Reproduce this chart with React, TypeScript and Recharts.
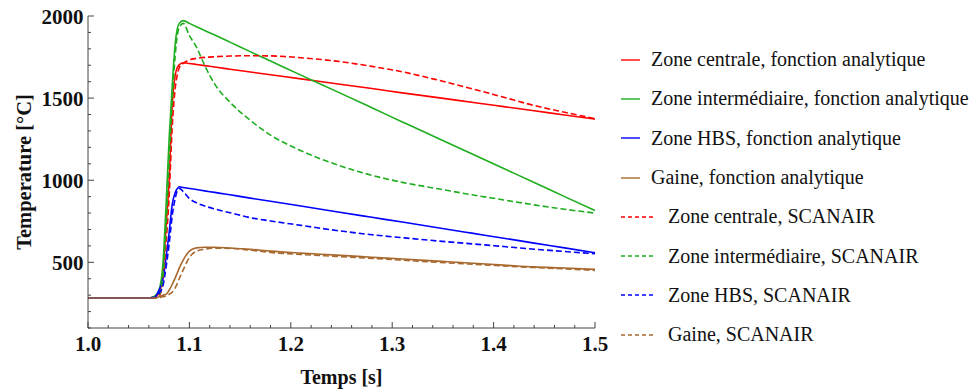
import { LineChart, Line, XAxis, YAxis } from "recharts";

// time grid [s]
const temps = [
  1.0, 1.06, 1.066, 1.07, 1.074, 1.077, 1.08, 1.083, 1.086, 1.088, 1.09, 1.094,
  1.1, 1.107, 1.115, 1.125, 1.14, 1.16, 1.18, 1.21, 1.245, 1.28, 1.31, 1.345,
  1.38, 1.41, 1.44, 1.47, 1.5,
];

// temperatures [°C]
const centraleAnalytique = [
  283, 283, 290, 310, 450, 720, 1000, 1450, 1640, 1685, 1703, 1715,
  1711, 1705, 1698, 1689, 1676, 1659, 1642, 1617, 1587, 1558, 1532, 1503,
  1473, 1448, 1423, 1397, 1372,
];
const intermediaireAnalytique = [
  283, 283, 295, 330, 500, 850, 1250, 1570, 1830, 1920, 1955, 1972,
  1955, 1935, 1912, 1884, 1841, 1783, 1726, 1640, 1541, 1441, 1355, 1255,
  1156, 1071, 986, 900, 815,
];
const hbsAnalytique = [
  283, 283, 290, 330, 400, 530, 680, 850, 925, 948, 960, 956,
  950, 943, 935, 926, 911, 891, 872, 843, 808, 774, 745, 710,
  676, 647, 617, 588, 558,
];
const gaineAnalytique = [
  283, 283, 284, 290, 300, 305, 330, 365, 405, 435, 465, 515,
  568, 588, 592, 592, 587, 579, 568, 556, 544, 531, 520, 507,
  494, 483, 472, 465, 457,
];
const centraleScanair = [
  283, 283, 286, 295, 390, 620, 900, 1320, 1560, 1640, 1685, 1712,
  1733, 1742, 1748, 1752, 1756, 1758, 1757, 1746, 1725, 1693, 1660, 1610,
  1555, 1505, 1455, 1414, 1375,
];
const intermediaireScanair = [
  283, 283, 288, 300, 420, 720, 1120, 1480, 1760, 1880, 1930, 1955,
  1880, 1810, 1700, 1585, 1475, 1365, 1275, 1180, 1095, 1030, 987, 948,
  910, 880, 850, 823, 800,
];
const hbsScanair = [
  283, 283, 286, 310, 360, 470, 610, 780, 890, 935, 950, 930,
  888, 862, 843, 825, 802, 772, 752, 725, 694, 668, 650, 630,
  612, 596, 580, 566, 552,
];
const gaineScanair = [
  283, 283, 283, 285, 290, 296, 305, 318, 345, 370, 400, 455,
  530, 568, 580, 586, 585, 574, 560, 548, 536, 524, 513, 500,
  488, 478, 468, 460, 451,
];

const xTicks = [
  1.0, 1.02, 1.04, 1.06, 1.08, 1.1, 1.12, 1.14, 1.16, 1.18, 1.2, 1.22, 1.24,
  1.26, 1.28, 1.3, 1.32, 1.34, 1.36, 1.38, 1.4, 1.42, 1.44, 1.46, 1.48, 1.5,
];
const yTicks = [
  100, 200, 300, 400, 500, 600, 700, 800, 900, 1000, 1100, 1200, 1300, 1400,
  1500, 1600, 1700, 1800, 1900, 2000,
];

const RED = "#ff0000";
const GREEN = "#1fae1f";
const BLUE = "#0000ff";
const BROWN = "#a8692f";
const FRAME = "#444";
const SERIF = "'Liberation Serif', 'Times New Roman', serif";

const series = [
  { key: "ca", name: "Zone centrale, fonction analytique", color: RED, dashed: false, values: centraleAnalytique },
  { key: "ia", name: "Zone intermédiaire, fonction analytique", color: GREEN, dashed: false, values: intermediaireAnalytique },
  { key: "ha", name: "Zone HBS, fonction analytique", color: BLUE, dashed: false, values: hbsAnalytique },
  { key: "ga", name: "Gaine, fonction analytique", color: BROWN, dashed: false, values: gaineAnalytique },
  { key: "cs", name: "Zone centrale, SCANAIR", color: RED, dashed: true, values: centraleScanair },
  { key: "is", name: "Zone intermédiaire, SCANAIR", color: GREEN, dashed: true, values: intermediaireScanair },
  { key: "hs", name: "Zone HBS, SCANAIR", color: BLUE, dashed: true, values: hbsScanair },
  { key: "gs", name: "Gaine, SCANAIR", color: BROWN, dashed: true, values: gaineScanair },
];

const data = temps.map((t, i) => {
  const row: Record<string, number> = { t };
  series.forEach((s) => (row[s.key] = s.values[i]));
  return row;
});

const isMajorX = (v: number) => Math.abs(v * 10 - Math.round(v * 10)) < 1e-6;
const isMajorY = (v: number) => v % 500 === 0;

const labelStyle = { fontFamily: SERIF, fontWeight: "bold" as const, fill: "#111" };

function BottomTick({ x, y, payload }: any) {
  const major = isMajorX(payload.value);
  return (
    <g>
      <line x1={x} x2={x} y1={y} y2={y - (major ? 6 : 3)} stroke={FRAME} />
      {major && (
        <text x={x} y={y + 23} textAnchor="middle" fontSize={21} {...labelStyle}>
          {payload.value.toFixed(1)}
        </text>
      )}
    </g>
  );
}

function TopTick({ x, y, payload }: any) {
  const major = isMajorX(payload.value);
  return <line x1={x} x2={x} y1={y} y2={y + (major ? 6 : 3)} stroke={FRAME} />;
}

function LeftTick({ x, y, payload }: any) {
  const major = isMajorY(payload.value);
  return (
    <g>
      <line x1={x} x2={x + (major ? 6 : 3)} y1={y} y2={y} stroke={FRAME} />
      {major && (
        <text x={x - 4.5} y={y + 7.5} textAnchor="end" fontSize={21} {...labelStyle}>
          {payload.value}
        </text>
      )}
    </g>
  );
}

function RightTick({ x, y, payload }: any) {
  const major = isMajorY(payload.value);
  return <line x1={x} x2={x - (major ? 6 : 3)} y1={y} y2={y} stroke={FRAME} />;
}

export default function App() {
  return (
    <div style={{ position: "absolute", left: 0, top: 0, width: 974, height: 392, background: "#fff" }}>
      <LineChart
        width={974}
        height={392}
        data={data}
        margin={{ top: 16, right: 379, bottom: 0, left: 0 }}
      >
        <XAxis
          dataKey="t"
          type="number"
          domain={[1, 1.5]}
          ticks={xTicks}
          interval={0}
          height={64}
          tickSize={0}
          tickMargin={0}
          stroke={FRAME}
          tick={<BottomTick />}
          label={{
            position: "insideBottom",
            content: ({ viewBox }: any) => (
              <text x={viewBox.x + viewBox.width / 2} y={384} textAnchor="middle" fontSize={20} {...labelStyle}>
                Temps [s]
              </text>
            ),
          }}
        />
        <XAxis
          xAxisId="top"
          orientation="top"
          dataKey="t"
          type="number"
          domain={[1, 1.5]}
          ticks={xTicks}
          interval={0}
          height={0}
          tickSize={0}
          tickMargin={0}
          stroke={FRAME}
          tick={<TopTick />}
        />
        <YAxis
          type="number"
          domain={[100, 2000]}
          ticks={yTicks}
          interval={0}
          width={88}
          tickSize={0}
          tickMargin={0}
          stroke={FRAME}
          tick={<LeftTick />}
          label={{
            position: "insideLeft",
            content: ({ viewBox }: any) => {
              const cy = viewBox.y + viewBox.height / 2;
              return (
                <text
                  x={31}
                  y={cy}
                  transform={`rotate(-90, 31, ${cy})`}
                  textAnchor="middle"
                  fontSize={20.5}
                  {...labelStyle}
                >
                  Temperature [°C]
                </text>
              );
            },
          }}
        />
        <YAxis
          yAxisId="right"
          orientation="right"
          type="number"
          domain={[100, 2000]}
          ticks={yTicks}
          interval={0}
          width={0}
          tickSize={0}
          tickMargin={0}
          stroke={FRAME}
          tick={<RightTick />}
        />
        {series.map((s) => (
          <Line
            key={s.key}
            dataKey={s.key}
            name={s.name}
            type="monotone"
            stroke={s.color}
            strokeWidth={1.6}
            strokeDasharray={s.dashed ? "6 3" : undefined}
            dot={false}
            activeDot={false}
            isAnimationActive={false}
          />
        ))}
      </LineChart>

      {/* legend */}
      <div style={{ position: "absolute", left: 621, top: 40, fontFamily: SERIF, fontSize: 20, color: "#111" }}>
        {series.map((s) => (
          <div key={s.key} style={{ display: "flex", alignItems: "center", height: 39.3 }}>
            <svg width={s.dashed ? 47 : 30} height={4} style={{ flex: "none" }}>
              <line
                x1={0}
                x2={s.dashed ? 35 : 19}
                y1={2}
                y2={2}
                stroke={s.color}
                strokeWidth={1.4}
                strokeDasharray={s.dashed ? "4 3" : undefined}
              />
            </svg>
            <span style={{ whiteSpace: "nowrap" }}>{s.name}</span>
          </div>
        ))}
      </div>
    </div>
  );
}
